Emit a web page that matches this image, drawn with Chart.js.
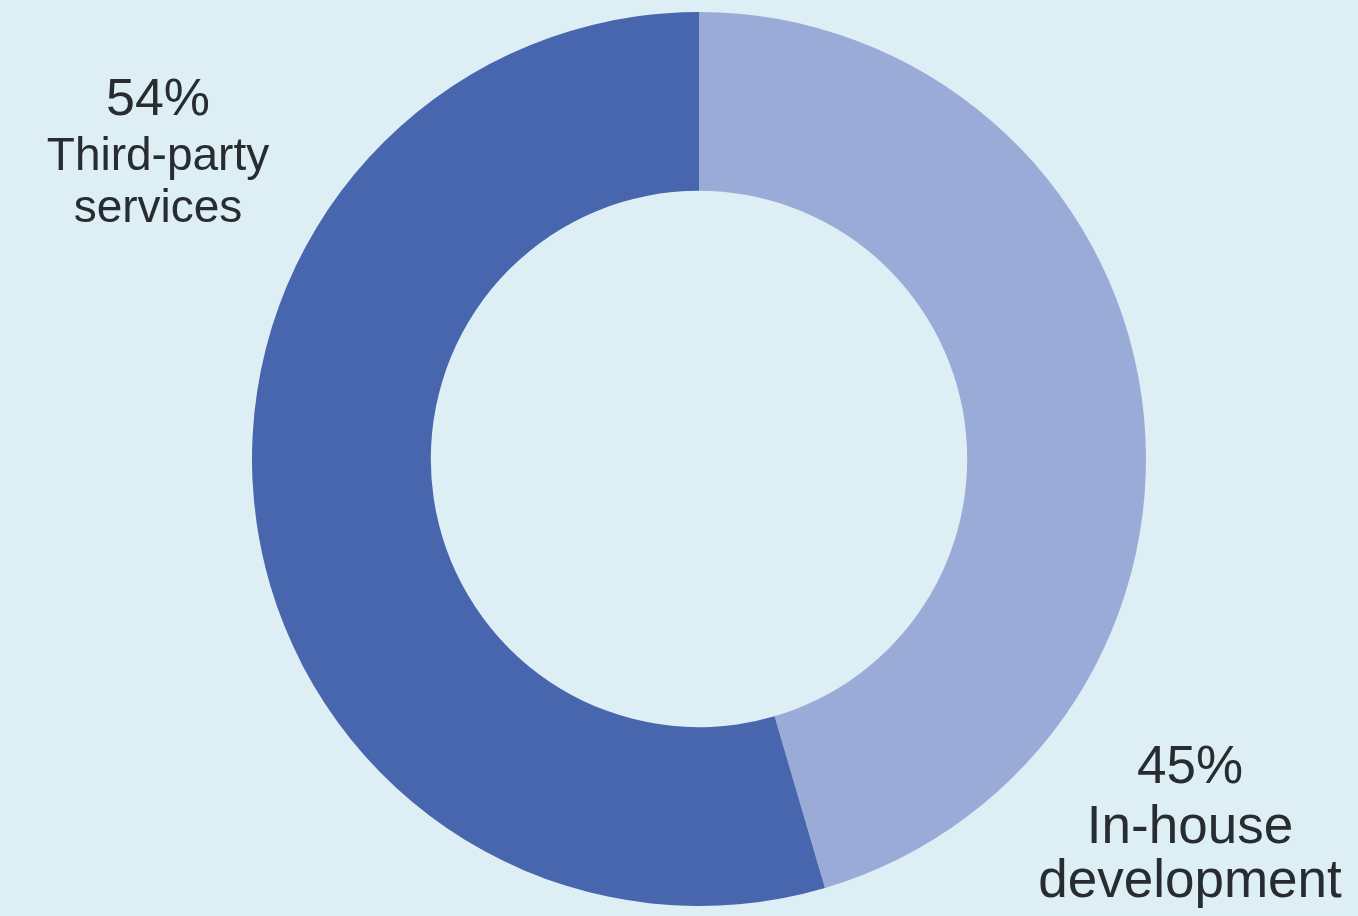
<!DOCTYPE html>
<html>
<head>
<meta charset="utf-8">
<script src="https://cdn.jsdelivr.net/npm/chart.js@4/dist/chart.umd.min.js"></script>
<style>
html,body{margin:0;padding:0;background:#DDEEF5;}
#wrap{width:1358px;height:916px;position:relative;}
</style>
</head>
<body>
<div id="wrap"><canvas id="c" width="1358" height="916"></canvas></div>
<script>
const categories = ["In-house development", "Third-party services"];
const values = [45, 54];
const percentLabels = ["45%", "54%"];
const labelLines = [["In-house", "development"], ["Third-party", "services"]];
const colors = ["#9AABD7", "#4866AD"];

const labelPlugin = {
  id: 'sliceLabels',
  afterDraw(chart) {
    const ctx = chart.ctx;
    const meta = chart.getDatasetMeta(0);
    const arc = meta.data[0];
    const cx = arc.x, cy = arc.y;
    // label anchors (offsets from doughnut centre) and per-line font sizes
    const specs = [
      {dx: 491, dys: [324, 384, 438], sizes: [53, 53, 53]},
      {dx: -541, dys: [-344, -289, -237], sizes: [52, 46, 46]}
    ];
    ctx.save();
    ctx.fillStyle = '#262C30';
    ctx.textAlign = 'center';
    ctx.textBaseline = 'alphabetic';
    specs.forEach((s, i) => {
      const lines = [percentLabels[i]].concat(labelLines[i]);
      lines.forEach((t, k) => {
        ctx.font = s.sizes[k] + 'px "Liberation Sans", Arial, sans-serif';
        ctx.fillText(t, cx + s.dx, cy + s.dys[k]);
      });
    });
    ctx.restore();
  }
};

new Chart(document.getElementById('c'), {
  type: 'doughnut',
  data: {
    labels: categories,
    datasets: [{
      data: values,
      backgroundColor: colors,
      borderWidth: 0
    }]
  },
  options: {
    responsive: false,
    animation: false,
    cutout: '60%',
    layout: {padding: {top: 12, bottom: 10, left: 40, right: 0}},
    plugins: {legend: {display: false}, tooltip: {enabled: false}}
  },
  plugins: [labelPlugin]
});
</script>
</body>
</html>
